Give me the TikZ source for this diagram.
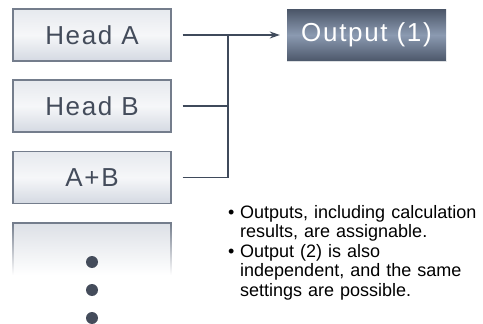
\documentclass[tikz,border=0pt]{standalone}
\usepackage{fontspec}
\setmainfont{Liberation Sans}
\newfontfamily\boxfont[LetterSpace=6.5]{Liberation Sans}
\usetikzlibrary{arrows.meta}
\definecolor{txt}{HTML}{444C5B}
\definecolor{edge}{HTML}{747D8C}
\definecolor{wire}{HTML}{3F4A5B}
\definecolor{btop}{HTML}{E6E9EE}
\definecolor{bmid}{HTML}{F6F7F9}
\definecolor{bbot}{HTML}{D4D9E2}
\definecolor{otop}{HTML}{4A5567}
\definecolor{omid}{HTML}{8B9AB1}
\definecolor{obot}{HTML}{4C576A}
\tikzset{
  headbox/.style={draw=edge, line width=1.3pt, top color=btop, bottom color=bbot, middle color=bmid,
    minimum width=158pt, minimum height=52pt, inner sep=0pt, text=txt,
    font=\boxfont\fontsize{26}{30}\selectfont},
  outbox/.style={draw=none, top color=otop, bottom color=obot, middle color=omid,
    minimum width=159pt, minimum height=52pt, inner sep=0pt, text=white,
    font=\boxfont\fontsize{26}{30}\selectfont},
  wireline/.style={draw=wire, line width=1.2pt},
  dotmark/.style={circle, fill=txt, minimum size=12pt, inner sep=0pt},
  note/.style={text=black, align=left, anchor=north west, inner sep=0pt,
    font=\fontsize{18}{19.5}\selectfont, text width=250pt}
}
\begin{document}
\begin{tikzpicture}[x=1pt,y=-1pt]
\useasboundingbox (0,0) rectangle (483,324);
\node[headbox] (ha) at (92,35) {Head A};
\node[headbox] (hb) at (92,106) {Head B};
\node[headbox] (hab) at (92,177.5) {A+B};
\node[outbox] (out) at (366.5,35) {Output (1)};
\draw[draw=white!75!edge, line width=1pt] (out.south west) -- (out.south east);
% faded fourth box
\shade[top color=btop!92!edge, bottom color=white] (13,223) rectangle (171,275);
\shade[top color=edge, bottom color=white] (12.4,223) rectangle (13.6,275);
\shade[top color=edge, bottom color=white] (170.4,223) rectangle (171.6,275);
\draw[draw=edge, line width=1.3pt] (12.4,223) -- (171.6,223);
\node[dotmark] (d1) at (92,262) {};
\node[dotmark] (d2) at (92,290) {};
\node[dotmark] (d3) at (92,318) {};
% connectors
\coordinate (j) at (228,35);
\draw[wireline, -{Stealth[length=10pt,width=7pt]}, shorten >=7pt] ([xshift=11pt]ha.east) -- (out.west);
\draw[wireline] ([xshift=11pt]hb.east) -| (j);
\draw[wireline] ([xshift=11pt]hab.east) -| (j);
% notes
\node[note] (n) at (228,205) {%
\makebox[12pt][l]{\textbullet}Outputs, including calculation\\
\hspace*{12pt}results, are assignable.\\
\makebox[12pt][l]{\textbullet}Output (2) is also\\
\hspace*{12pt}independent, and the same\\
\hspace*{12pt}settings are possible.};
\end{tikzpicture}
\end{document}
